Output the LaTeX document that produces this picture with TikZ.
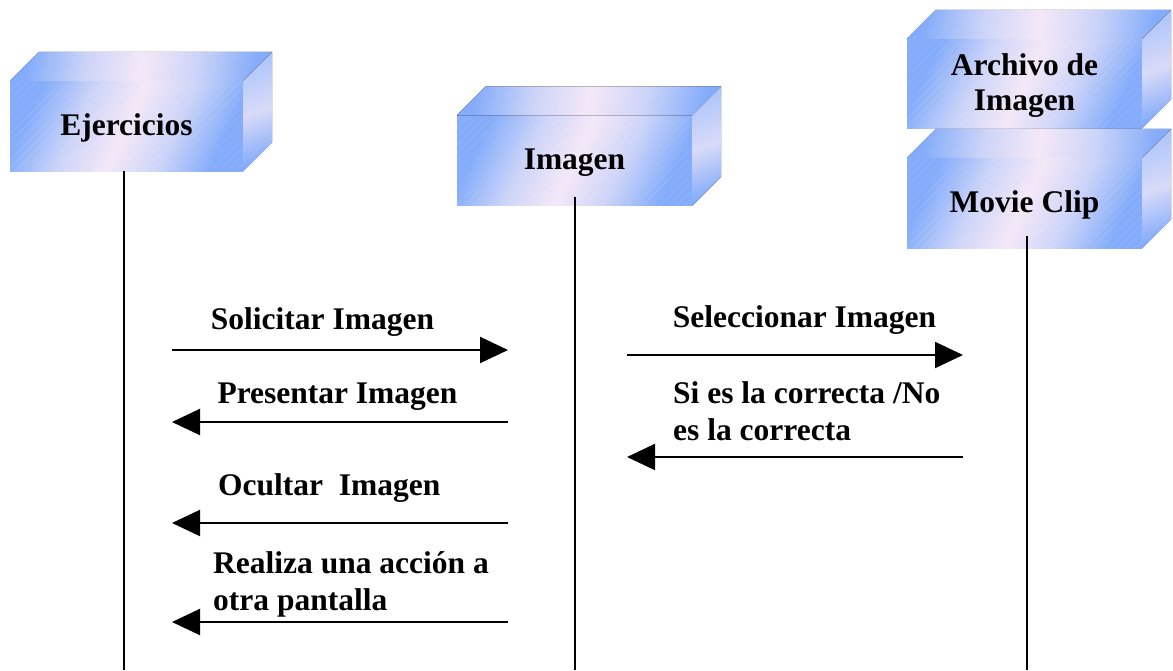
\documentclass[tikz,border=0pt]{standalone}
\usepackage{fontspec}
\setmainfont{Liberation Serif}
\usetikzlibrary{arrows.meta,patterns.meta}
\definecolor{boxblue}{RGB}{132,172,250}
\definecolor{boxlav}{RGB}{205,212,248}
\definecolor{boxpink}{RGB}{244,232,247}
\definecolor{sideblue}{RGB}{175,198,250}
\pgfdeclarehorizontalshading{cubeshade}{100bp}{color(0bp)=(boxblue); color(25bp)=(boxblue); color(38bp)=(boxlav); color(50bp)=(boxpink); color(62bp)=(boxlav); color(75bp)=(boxblue); color(100bp)=(boxblue)}
\begin{document}
\begin{tikzpicture}[x=1pt,y=-1pt,
  lbl/.style={font=\bfseries\fontsize{31.5}{37}\selectfont, inner sep=0pt, align=left},
  box/.style={rectangle, minimum width=235pt, minimum height=90pt, inner sep=0pt, align=center,
    font=\bfseries\fontsize{31.5}{35}\selectfont, text depth=2pt,
    shading=cubeshade, shading angle=-25,
    postaction={opacity=0.12, pattern={Lines[angle=45,distance=6pt,line width=0.6pt]}, pattern color=white}},
  topface/.style={shading=cubeshade, shading angle=-10},
  sideface/.style={top color=sideblue, bottom color=boxblue, middle color=boxpink!60!sideblue, shading angle=20},
  life/.style={line width=1.5pt},
  msg/.style={line width=2pt, -{Triangle[length=28pt,width=26pt]}}
]
\useasboundingbox (0,0) rectangle (1173,670);
\newcommand\cubefaces[1]{%
  \fill[topface] (#1.north west) -- ++(29,-29) -- ([shift={(29,-29)}]#1.north east) -- (#1.north east) -- cycle;
  \fill[sideface] (#1.north east) -- ++(29,-29) -- ([shift={(29,-29)}]#1.south east) -- (#1.south east) -- cycle;}

\node[box, minimum width=233pt] (ej) at (126.5,126) {Ejercicios};
\cubefaces{ej}
\node[box] (im) at (574.5,160.5) {Imagen};
\cubefaces{im}
\node[box, minimum height=89pt] (ar) at (1024.5,83.5) {Archivo de\\Imagen};
\cubefaces{ar}
\node[box] (mc) at (1024.5,203) {Movie Clip};
\cubefaces{mc}

% lifelines
\coordinate (ejB) at (124,670);
\coordinate (imB) at (575,670);
\coordinate (mcB) at (1027,670);
\draw[life] ([xshift=-2.5pt]ej.south) -- (ejB);
\draw[life] ([yshift=9pt,xshift=0.5pt]im.south) -- (imB);
\draw[life] ([yshift=12pt,xshift=2.5pt]mc.south) -- (mcB);

% messages
\coordinate (m1s) at (172,350); \coordinate (m1e) at (508,350);
\coordinate (m2s) at (508,422); \coordinate (m2e) at (172,422);
\coordinate (m3s) at (508,523); \coordinate (m3e) at (172,523);
\coordinate (m4s) at (508,622); \coordinate (m4e) at (172,622);
\coordinate (m5s) at (627,355); \coordinate (m5e) at (963,355);
\coordinate (m6s) at (963,457); \coordinate (m6e) at (627,457);
\draw[msg] (m1s) -- (m1e);
\draw[msg] (m2s) -- (m2e);
\draw[msg] (m3s) -- (m3e);
\draw[msg] (m4s) -- (m4e);
\draw[msg] (m5s) -- (m5e);
\draw[msg] (m6s) -- (m6e);

% labels
\node[lbl] (l1) at (322.5,322) {Solicitar Imagen};
\node[lbl] (l2) at (337.5,397) {Presentar Imagen};
\node[lbl, anchor=west] (l3) at (218,488) {Ocultar\ \ Imagen};
\node[lbl, anchor=west] (l4) at (213,584) {Realiza una acción a\\otra pantalla};
\node[lbl] (l5) at (804.5,320) {Seleccionar Imagen};
\node[lbl, anchor=west] (l6) at (673,411) {Si es la correcta /No\\es la correcta};
\end{tikzpicture}
\end{document}
